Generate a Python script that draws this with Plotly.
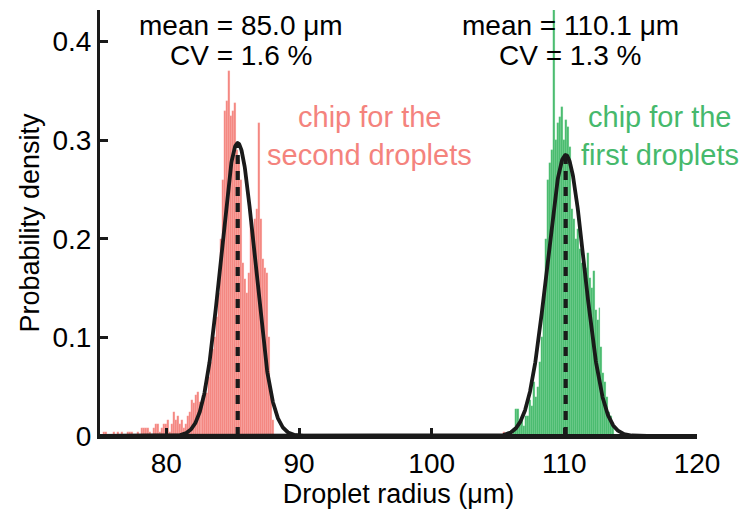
import numpy as np
import plotly.graph_objects as go

# ---------------- data ----------------
bin_width = 0.15

red_centers = [75.30, 75.45, 75.60, 75.75, 75.90, 76.05, 76.20, 76.35, 76.50, 76.65,
               76.80, 76.95, 77.10, 77.25, 77.40, 77.55, 77.70, 77.85, 78.00, 78.15,
               78.30, 78.45, 78.60, 78.75, 78.90, 79.05, 79.20, 79.35, 79.50, 79.65,
               79.80, 79.95, 80.10, 80.25, 80.40, 80.55, 80.70, 80.85, 81.00, 81.15,
               81.30, 81.45, 81.60, 81.75, 81.90, 82.05, 82.20, 82.35, 82.50, 82.65,
               82.80, 82.95, 83.10, 83.25, 83.40, 83.55, 83.70, 83.85, 84.00, 84.15,
               84.30, 84.45, 84.60, 84.75, 84.90, 85.05, 85.20, 85.35, 85.50, 85.65,
               85.80, 85.95, 86.10, 86.25, 86.40, 86.55, 86.70, 86.85, 87.00, 87.15,
               87.30, 87.45, 87.60, 87.75, 87.90, 88.05, 105.45]
red_density = [0.004, 0.004, 0.0, 0.0, 0.0, 0.004, 0.0, 0.004, 0.0, 0.004,
               0.0, 0.0, 0.004, 0.004, 0.004, 0.0, 0.0, 0.004, 0.0, 0.008,
               0.008, 0.008, 0.008, 0.004, 0.0, 0.008, 0.012, 0.012, 0.004, 0.008,
               0.012, 0.012, 0.016, 0.004, 0.012, 0.024, 0.016, 0.020, 0.012, 0.016,
               0.008, 0.012, 0.020, 0.024, 0.037, 0.033, 0.042, 0.045, 0.034, 0.030,
               0.042, 0.051, 0.044, 0.060, 0.075, 0.088, 0.100, 0.121, 0.145, 0.200,
               0.260, 0.330, 0.340, 0.370, 0.325, 0.330, 0.338, 0.290, 0.280, 0.260,
               0.175, 0.159, 0.145, 0.165, 0.216, 0.200, 0.220, 0.230, 0.317, 0.220,
               0.180, 0.170, 0.165, 0.100, 0.041, 0.016, 0.004]

green_centers = [105.75, 105.90, 106.05, 106.20, 106.35, 106.50, 106.65, 106.80, 106.95, 107.10,
                 107.25, 107.40, 107.55, 107.70, 107.85, 108.00, 108.15, 108.30, 108.45, 108.60,
                 108.75, 108.90, 109.05, 109.20, 109.35, 109.50, 109.65, 109.80, 109.95, 110.10,
                 110.25, 110.40, 110.55, 110.70, 110.85, 111.00, 111.15, 111.30, 111.45, 111.60,
                 111.75, 111.90, 112.05, 112.20, 112.35, 112.50, 112.65, 112.80, 112.95, 113.10,
                 113.25, 113.40, 113.55, 113.70]
green_density = [0.004, 0.004, 0.0, 0.008, 0.027, 0.027, 0.012, 0.016, 0.010, 0.020,
                 0.020, 0.037, 0.030, 0.055, 0.040, 0.050, 0.075, 0.100, 0.140, 0.200,
                 0.260, 0.277, 0.290, 0.460, 0.300, 0.317, 0.324, 0.334, 0.300, 0.320,
                 0.313, 0.293, 0.230, 0.220, 0.200, 0.210, 0.190, 0.175, 0.180, 0.170,
                 0.186, 0.160, 0.150, 0.167, 0.128, 0.118, 0.130, 0.090, 0.064, 0.055,
                 0.040, 0.024, 0.020, 0.010]

# Gaussian fits (centre, sd, peak height) as drawn
fit_means = [85.38, 110.1]
fit_sds = [1.28, 1.40]
fit_peaks = [0.297, 0.285]

stat_labels = [["mean = 85.0 μm", "CV = 1.6 %"], ["mean = 110.1 μm", "CV = 1.3 %"]]
chip_labels = [["chip for the", "second droplets"], ["chip for the", "first droplets"]]

x_ticks = [80, 90, 100, 110, 120]
x_ticklabels = ["80", "90", "100", "110", "120"]
y_ticks = [0, 0.1, 0.2, 0.3, 0.4]
y_ticklabels = ["0", "0.1", "0.2", "0.3", "0.4"]

# ---------------- figure ----------------
RED = "#F4837D"
GREEN = "#46B96C"
FONT = "Arial, Liberation Sans, Helvetica, sans-serif"

fig = go.Figure()
fig.add_trace(go.Bar(x=red_centers, y=red_density, width=bin_width,
                     marker=dict(color=RED, line=dict(color="rgba(255,200,195,0.8)", width=0.3)),
                     showlegend=False, hoverinfo="skip"))
fig.add_trace(go.Bar(x=green_centers, y=green_density, width=bin_width,
                     marker=dict(color=GREEN, line=dict(color="rgba(140,220,165,0.8)", width=0.3)),
                     showlegend=False, hoverinfo="skip"))

xs = np.linspace(75, 120, 1801)
for m, s, a in zip(fit_means, fit_sds, fit_peaks):
    ys = a * np.exp(-0.5 * ((xs - m) / s) ** 2)
    fig.add_trace(go.Scatter(x=xs, y=ys, mode="lines",
                             line=dict(color="#1a1a1a", width=3.8),
                             showlegend=False, hoverinfo="skip"))
    fig.add_trace(go.Scatter(x=[m, m], y=[0, a], mode="lines",
                             line=dict(color="#1a1a1a", width=4.2, dash="9px,7px"),
                             showlegend=False, hoverinfo="skip"))

ann = []
for (l1, l2), xc in zip(stat_labels, [85.6, 110.45]):
    ann.append(dict(x=xc, y=0.416, xref="x", yref="y", text=l1, showarrow=False,
                    font=dict(size=28, color="black", family=FONT)))
    ann.append(dict(x=xc, y=0.386, xref="x", yref="y", text=l2, showarrow=False,
                    font=dict(size=28, color="black", family=FONT)))
for (l1, l2), xc, col in zip(chip_labels, [95.3, 117.2], [RED, GREEN]):
    ann.append(dict(x=xc, y=0.323, xref="x", yref="y", text=l1, showarrow=False,
                    font=dict(size=29, color=col, family=FONT)))
    ann.append(dict(x=xc, y=0.285, xref="x", yref="y", text=l2, showarrow=False,
                    font=dict(size=29, color=col, family=FONT)))

fig.update_layout(
    width=745, height=514,
    margin=dict(l=100, r=48, t=10, b=78, autoexpand=False),
    paper_bgcolor="white", plot_bgcolor="white",
    barmode="overlay", bargap=0,
    annotations=ann,
    font=dict(family=FONT, size=27, color="black"),
    xaxis=dict(range=[75, 120], tickvals=x_ticks, ticktext=x_ticklabels,
               ticks="inside", ticklen=8, tickwidth=3, tickcolor="#1a1a1a",
               showline=True, linecolor="#1a1a1a", linewidth=3,
               showgrid=False, zeroline=False, automargin=False,
               title=dict(text="Droplet radius (μm)", font=dict(size=27), standoff=6),
               tickfont=dict(size=28)),
    yaxis=dict(range=[0, 0.432], tickvals=y_ticks, ticktext=y_ticklabels,
               ticks="inside", ticklen=8, tickwidth=3, tickcolor="#1a1a1a",
               showline=True, linecolor="#1a1a1a", linewidth=3,
               showgrid=False, zeroline=False, automargin=False,
               title=dict(text="Probability density", font=dict(size=27), standoff=6),
               tickfont=dict(size=28)),
)

fig.write_html("out.html", config={"displayModeBar": False},
               post_script="document.body.style.margin='0px';document.body.style.overflow='hidden';")
